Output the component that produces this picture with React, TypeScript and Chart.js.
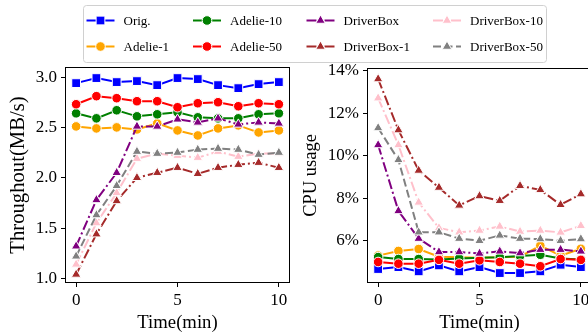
import React, { useEffect, useRef } from 'react';
import { Chart, registerables } from 'chart.js';

Chart.register(...registerables);

// ---------- data ----------
const minutes = [0, 1, 2, 3, 4, 5, 6, 7, 8, 9, 10];
const seriesNames = ['Orig.', 'Adelie-1', 'Adelie-10', 'Adelie-50', 'DriverBox', 'DriverBox-1', 'DriverBox-10', 'DriverBox-50'];
const seriesColors = ['#0000ff', '#ffa500', '#008000', '#ff0000', '#800080', '#a52a2a', '#ffc0cb', '#808080'];
const seriesMarkers = ['rect', 'circle', 'circle', 'circle', 'triangle', 'triangle', 'triangle', 'triangle'];
const seriesDashes: number[][] = [[], [], [], [], [10, 3, 2, 3], [10, 3, 2, 3], [10, 3, 2, 3], [8, 3.5]];

// Throughput (MB/s)
const tpOrig = [2.94, 2.99, 2.95, 2.96, 2.92, 2.99, 2.98, 2.92, 2.89, 2.93, 2.95];
const tpAdelie1 = [2.51, 2.49, 2.50, 2.48, 2.54, 2.47, 2.42, 2.49, 2.52, 2.45, 2.47];
const tpAdelie10 = [2.64, 2.59, 2.67, 2.61, 2.63, 2.65, 2.60, 2.59, 2.59, 2.63, 2.64];
const tpAdelie50 = [2.73, 2.81, 2.79, 2.76, 2.76, 2.70, 2.74, 2.75, 2.71, 2.74, 2.73];
const tpDriverBox = [1.32, 1.78, 2.05, 2.51, 2.51, 2.58, 2.55, 2.59, 2.53, 2.55, 2.54];
const tpDriverBox1 = [1.04, 1.44, 1.77, 2.00, 2.05, 2.10, 2.04, 2.10, 2.13, 2.15, 2.10];
const tpDriverBox10 = [1.14, 1.55, 1.85, 2.19, 2.24, 2.22, 2.20, 2.26, 2.21, 2.24, 2.24];
const tpDriverBox50 = [1.22, 1.63, 1.92, 2.26, 2.24, 2.25, 2.28, 2.29, 2.28, 2.23, 2.25];

// CPU usage (%)
const cpuOrig = [4.67, 4.76, 4.56, 4.84, 4.56, 4.76, 4.48, 4.48, 4.56, 4.87, 4.76];
const cpuAdelie1 = [5.30, 5.52, 5.61, 5.25, 5.22, 5.20, 5.22, 5.25, 5.77, 5.30, 5.62];
const cpuAdelie10 = [5.23, 5.14, 5.14, 5.12, 5.17, 5.20, 5.22, 5.28, 5.34, 5.16, 5.12];
const cpuAdelie50 = [5.00, 4.92, 4.92, 5.10, 4.92, 5.08, 5.00, 4.92, 4.80, 5.14, 5.10];
const cpuDriverBox = [10.5, 7.4, 6.1, 5.47, 5.47, 5.40, 5.50, 5.42, 5.58, 5.58, 5.50];
const cpuDriverBox1 = [13.6, 11.2, 9.3, 8.5, 7.66, 8.1, 7.88, 8.58, 8.39, 7.69, 8.19];
const cpuDriverBox10 = [12.7, 10.5, 7.8, 6.6, 6.4, 6.48, 6.67, 6.43, 6.48, 6.39, 6.7];
const cpuDriverBox50 = [11.3, 9.8, 6.4, 6.4, 6.1, 6.0, 6.25, 6.1, 6.08, 6.0, 6.08];

const xTicks = [0, 5, 10];
const tpTicks = [1.0, 1.5, 2.0, 2.5, 3.0];
const cpuTicks = [6, 8, 10, 12, 14];

const tpSeries = [tpOrig, tpAdelie1, tpAdelie10, tpAdelie50, tpDriverBox, tpDriverBox1, tpDriverBox10, tpDriverBox50];
const cpuSeries = [cpuOrig, cpuAdelie1, cpuAdelie10, cpuAdelie50, cpuDriverBox, cpuDriverBox1, cpuDriverBox10, cpuDriverBox50];

const FONT = "'Liberation Serif', 'Times New Roman', serif";
const TICK_SIZE = 17;
const LEGEND_SIZE = 13;

function markerRadius(style: string) {
  if (style === 'rect') return 6.2;
  if (style === 'circle') return 4.8;
  return 5.5;
}

function buildDatasets(values: number[][]) {
  return values.map((vals, i) => ({
    label: seriesNames[i],
    data: minutes.map((m, k) => ({ x: m, y: vals[k] })),
    borderColor: seriesColors[i],
    backgroundColor: seriesColors[i],
    pointBackgroundColor: seriesColors[i],
    pointBorderColor: '#ffffff',
    pointBorderWidth: 1,
    pointStyle: seriesMarkers[i],
    pointRadius: markerRadius(seriesMarkers[i]),
    borderWidth: 2,
    borderDash: seriesDashes[i],
    tension: 0,
    fill: false,
    order: values.length - i,
  }));
}

const framePlugin = {
  id: 'frame',
  afterDraw(chart: any) {
    const { ctx, chartArea } = chart;
    ctx.save();
    ctx.strokeStyle = '#000';
    ctx.lineWidth = 1;
    ctx.setLineDash([]);
    ctx.strokeRect(chartArea.left - 0.5, chartArea.top - 0.5, chartArea.right - chartArea.left + 1, chartArea.bottom - chartArea.top + 1);
    ctx.restore();
  },
};

function drawMarker(ctx: CanvasRenderingContext2D, style: string, x: number, y: number, color: string) {
  const r = markerRadius(style);
  ctx.save();
  ctx.setLineDash([]);
  ctx.fillStyle = color;
  ctx.strokeStyle = '#fff';
  ctx.lineWidth = 1;
  ctx.beginPath();
  if (style === 'rect') {
    const s = r * Math.SQRT1_2;
    ctx.rect(x - s, y - s, 2 * s, 2 * s);
  } else if (style === 'circle') {
    ctx.arc(x, y, r, 0, Math.PI * 2);
  } else {
    ctx.moveTo(x, y - r);
    ctx.lineTo(x + r * Math.sin(Math.PI * 2 / 3), y - r * Math.cos(Math.PI * 2 / 3));
    ctx.lineTo(x + r * Math.sin(Math.PI * 4 / 3), y - r * Math.cos(Math.PI * 4 / 3));
    ctx.closePath();
  }
  ctx.fill();
  ctx.stroke();
  ctx.restore();
}

const legendPlugin = {
  id: 'customLegend',
  afterDraw(chart: any) {
    const ctx: CanvasRenderingContext2D = chart.ctx;
    const colX = [86.5, 193, 306.5, 433];
    const rowY = [20.5, 46.5];
    ctx.save();
    const bx = 83.5, by = 5.5, bw = 463, bh = 57, rr = 3;
    ctx.beginPath();
    ctx.moveTo(bx + rr, by);
    ctx.lineTo(bx + bw - rr, by);
    ctx.quadraticCurveTo(bx + bw, by, bx + bw, by + rr);
    ctx.lineTo(bx + bw, by + bh - rr);
    ctx.quadraticCurveTo(bx + bw, by + bh, bx + bw - rr, by + bh);
    ctx.lineTo(bx + rr, by + bh);
    ctx.quadraticCurveTo(bx, by + bh, bx, by + bh - rr);
    ctx.lineTo(bx, by + rr);
    ctx.quadraticCurveTo(bx, by, bx + rr, by);
    ctx.closePath();
    ctx.fillStyle = 'rgba(255,255,255,0.8)';
    ctx.fill();
    ctx.strokeStyle = '#d0d0d0';
    ctx.lineWidth = 1;
    ctx.stroke();

    chart.data.datasets.forEach((ds: any, i: number) => {
      const col = Math.floor(i / 2);
      const row = i % 2;
      const x0 = colX[col];
      const y = rowY[row];
      ctx.save();
      ctx.strokeStyle = ds.borderColor;
      ctx.lineWidth = 2;
      ctx.setLineDash(ds.borderDash || []);
      ctx.beginPath();
      ctx.moveTo(x0, y);
      ctx.lineTo(x0 + 28, y);
      ctx.stroke();
      ctx.restore();
      drawMarker(ctx, ds.pointStyle, x0 + 14, y, ds.borderColor);
      ctx.fillStyle = '#000';
      ctx.font = `normal ${LEGEND_SIZE}px ${FONT}`;
      ctx.textBaseline = 'middle';
      ctx.textAlign = 'left';
      ctx.fillText(ds.label, x0 + 37, y + 1);
    });
    ctx.restore();
  },
};

function makeOptions(cfg: {
  yMin: number; yMax: number; yTicks: number[]; yTitle: string; yFmt: (v: number) => string;
  pad: { left: number; right: number; top: number; bottom: number };
  yWidth: number; xHeight: number; yTitlePad: number; yTitleSize: number;
}) {
  const tickFont = { family: FONT, size: TICK_SIZE, weight: 'normal' as const };
  const xTitleFont = { family: FONT, size: 18.7, weight: 'normal' as const, lineHeight: 1 };
  const yTitleFont = { family: FONT, size: cfg.yTitleSize, weight: 'normal' as const, lineHeight: 1 };
  return {
    responsive: false,
    animation: false as const,
    layout: { padding: cfg.pad },
    plugins: { legend: { display: false }, tooltip: { enabled: false } },
    scales: {
      x: {
        type: 'linear' as const,
        min: -0.5,
        max: 10.5,
        afterBuildTicks: (s: any) => { s.ticks = xTicks.map((v) => ({ value: v })); },
        afterFit: (s: any) => { s.height = cfg.xHeight; },
        ticks: { color: '#000', font: tickFont, padding: 3, maxRotation: 0, callback: (v: any) => String(v) },
        grid: { display: true, drawOnChartArea: false, drawTicks: true, tickLength: 5, color: '#000', tickColor: '#000' },
        border: { display: false },
        title: { display: true, text: 'Time(min)', color: '#000', font: xTitleFont, padding: { top: 0, bottom: 0.7 } },
      },
      y: {
        type: 'linear' as const,
        min: cfg.yMin,
        max: cfg.yMax,
        afterBuildTicks: (s: any) => { s.ticks = cfg.yTicks.map((v) => ({ value: v })); },
        afterFit: (s: any) => { s.width = cfg.yWidth; },
        ticks: { color: '#000', font: tickFont, padding: 4, callback: (v: any) => cfg.yFmt(Number(v)) },
        grid: { display: true, drawOnChartArea: false, drawTicks: true, tickLength: 5, color: '#000', tickColor: '#000' },
        border: { display: false },
        title: { display: true, text: cfg.yTitle, color: '#000', font: yTitleFont, padding: { top: cfg.yTitlePad, bottom: 0 } },
      },
    },
  };
}

export default function App() {
  const leftRef = useRef<HTMLCanvasElement>(null);
  const rightRef = useRef<HTMLCanvasElement>(null);

  useEffect(() => {
    const left = new Chart(leftRef.current!, {
      type: 'line',
      data: { datasets: buildDatasets(tpSeries) as any },
      options: makeOptions({
        yMin: 0.965, yMax: 3.09, yTicks: tpTicks, yTitle: 'Throughout(MB/s)',
        yFmt: (v) => v.toFixed(1),
        pad: { left: 0, right: 588 - 289, top: 68, bottom: 0 },
        yWidth: 66, xHeight: 51, yTitlePad: 8, yTitleSize: 20.7,
      }) as any,
      plugins: [framePlugin, legendPlugin],
    });
    const right = new Chart(rightRef.current!, {
      type: 'line',
      data: { datasets: buildDatasets(cpuSeries) as any },
      options: makeOptions({
        yMin: 4.06, yMax: 14.07, yTicks: cpuTicks, yTitle: 'CPU usage',
        yFmt: (v) => `${Math.round(v)}%`,
        pad: { left: 0, right: 9, top: 69, bottom: 0 },
        yWidth: 68, xHeight: 51, yTitlePad: 1.5, yTitleSize: 18.5,
      }) as any,
      plugins: [framePlugin],
    });
    return () => { left.destroy(); right.destroy(); };
  }, []);

  return (
    <div style={{ position: 'absolute', left: 0, top: 0, width: 588, height: 333, overflow: 'hidden', background: '#fff' }}>
      <canvas ref={leftRef} width={588} height={333} style={{ position: 'absolute', left: 0, top: 0, width: 588, height: 333 }} />
      <canvas ref={rightRef} width={300} height={333} style={{ position: 'absolute', left: 300, top: 0, width: 300, height: 333 }} />
    </div>
  );
}
